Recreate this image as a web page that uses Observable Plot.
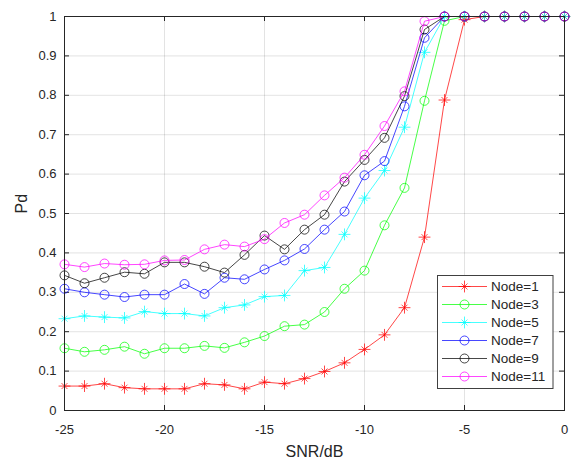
<!DOCTYPE html>
<html>
<head>
<meta charset="utf-8">
<script src="https://cdn.jsdelivr.net/npm/d3@7"></script>
<script src="https://cdn.jsdelivr.net/npm/@observablehq/plot@0.6"></script>
<style>
  html, body { margin: 0; padding: 0; background: #ffffff; }
  #chart { width: 576px; height: 459px; }
</style>
</head>
<body>
<div id="chart"></div>
<script>
// ---- data ----
const snr = [-25,-24,-23,-22,-21,-20,-19,-18,-17,-16,-15,-14,-13,-12,-11,-10,-9,-8,-7,-6,-5,-4,-3,-2,-1,0];
const node1  = [0.062,0.062,0.068,0.058,0.055,0.055,0.055,0.068,0.065,0.055,0.072,0.068,0.081,0.099,0.121,0.155,0.192,0.261,0.440,0.788,0.992,1,1,1,1,1];
const node3  = [0.158,0.149,0.154,0.162,0.144,0.158,0.158,0.164,0.159,0.173,0.189,0.214,0.218,0.250,0.309,0.355,0.470,0.565,0.786,0.989,1,1,1,1,1,1];
const node5  = [0.233,0.240,0.237,0.235,0.251,0.246,0.246,0.240,0.261,0.268,0.289,0.292,0.355,0.363,0.447,0.539,0.609,0.719,0.909,1,1,1,1,1,1,1];
const node7  = [0.309,0.300,0.294,0.288,0.294,0.294,0.321,0.296,0.337,0.333,0.358,0.381,0.410,0.459,0.505,0.597,0.633,0.772,0.946,1,1,1,1,1,1,1];
const node9  = [0.343,0.323,0.337,0.351,0.347,0.376,0.376,0.365,0.350,0.395,0.444,0.409,0.459,0.497,0.581,0.636,0.692,0.798,0.967,1,1,1,1,1,1,1];
const node11 = [0.371,0.364,0.373,0.370,0.371,0.381,0.382,0.409,0.421,0.416,0.435,0.476,0.497,0.546,0.591,0.649,0.722,0.810,0.988,1,1,1,1,1,1,1];

const seriesNames   = ["Node=1","Node=3","Node=5","Node=7","Node=9","Node=11"];
const seriesValues  = [node1, node3, node5, node7, node9, node11];
const seriesColors  = ["#ff0000","#00ff00","#00ffff","#0000ff","#000000","#ff00ff"];
const seriesMarkers = ["star","circle","star","circle","circle","circle"];

const xTicks = [-25,-20,-15,-10,-5,0];
const yTicks = [0,0.1,0.2,0.3,0.4,0.5,0.6,0.7,0.8,0.9,1];
const xLabel = "SNR/dB";
const yLabel = "Pd";

// ---- layout ----
const W = 576, H = 459;
const mL = 64, mR = 12, mT = 16, mB = 49;
const plotW = W - mL - mR, plotH = H - mT - mB;
const tickLen = 5;
const axisColor = "#262626";
const font = "'Liberation Sans', Arial, Helvetica, sans-serif";
const seriesOpacity = 0.72;

const marks = [
  Plot.gridX(xTicks, {stroke: axisColor, strokeOpacity: 0.13}),
  Plot.gridY(yTicks, {stroke: axisColor, strokeOpacity: 0.13}),
  // inward ticks
  Plot.tickY(yTicks, {y: d => d, insetRight: plotW - tickLen, stroke: axisColor}),
  Plot.tickY(yTicks, {y: d => d, insetLeft: plotW - tickLen, stroke: axisColor}),
  Plot.tickX(xTicks, {x: d => d, insetTop: plotH - tickLen, stroke: axisColor}),
  Plot.tickX(xTicks, {x: d => d, insetBottom: plotH - tickLen, stroke: axisColor}),
  Plot.axisX(xTicks, {tickSize: 0, tickPadding: 14, tickFormat: d => String(d), label: null, fontSize: 13}),
  Plot.axisY(yTicks, {tickSize: 0, tickPadding: 8, tickFormat: d => String(d), label: null, fontSize: 13}),
  Plot.text([xLabel], {text: d => d, frameAnchor: "bottom", dy: 41, lineAnchor: "middle", fontSize: 16, fill: axisColor}),
  Plot.text([yLabel], {text: d => d, frameAnchor: "left", dx: -43, rotate: -90, lineAnchor: "middle", fontSize: 16, fill: axisColor})
];

seriesNames.forEach((name, i) => {
  const rows = snr.map((x, j) => ({x, y: seriesValues[i][j]}));
  const c = seriesColors[i];
  marks.push(Plot.line(rows, {x: "x", y: "y", stroke: c, strokeWidth: 1, strokeOpacity: seriesOpacity}));
  if (seriesMarkers[i] === "circle") {
    marks.push(Plot.dot(rows, {x: "x", y: "y", symbol: "circle", r: 4.5, stroke: c, fill: "none", strokeWidth: 1, strokeOpacity: seriesOpacity}));
  } else {
    marks.push(Plot.dot(rows, {x: "x", y: "y", symbol: "plus", r: 3.9, stroke: c, strokeWidth: 1, strokeOpacity: seriesOpacity}));
    marks.push(Plot.dot(rows, {x: "x", y: "y", symbol: "times", r: 2.8, stroke: c, strokeWidth: 1, strokeOpacity: seriesOpacity}));
  }
});

marks.push(Plot.frame({stroke: axisColor, strokeWidth: 1}));

const chart = Plot.plot({
  width: W,
  height: H,
  marginLeft: mL,
  marginRight: mR,
  marginTop: mT,
  marginBottom: mB,
  style: {fontFamily: font, fontSize: "13px", color: axisColor, background: "#ffffff", overflow: "visible"},
  x: {domain: [-25, 0], type: "linear"},
  y: {domain: [0, 1], type: "linear"},
  marks
});

// ---- legend (drawn into the Plot SVG) ----
const svg = d3.select(chart);
const lg = {x: 437.5, y: 275.5, w: 115.5, h: 113, rowH: 18, firstRow: 286.5, lineX1: 442, lineX2: 487, textX: 491};
const g = svg.append("g").attr("class", "legend")
  .attr("font-family", font).attr("font-size", 13.5).attr("text-anchor", "start");
g.append("rect").attr("x", lg.x).attr("y", lg.y).attr("width", lg.w).attr("height", lg.h)
  .attr("fill", "#ffffff").attr("stroke", "#404040").attr("stroke-width", 1);
seriesNames.forEach((name, i) => {
  const yy = lg.firstRow + i * lg.rowH;
  const cx = (lg.lineX1 + lg.lineX2) / 2;
  const c = seriesColors[i];
  g.append("line").attr("x1", lg.lineX1).attr("x2", lg.lineX2).attr("y1", yy).attr("y2", yy)
    .attr("stroke", c).attr("stroke-width", 1).attr("stroke-opacity", seriesOpacity);
  if (seriesMarkers[i] === "circle") {
    g.append("path").attr("d", d3.symbol(d3.symbolCircle, Math.PI * 4.5 * 4.5)())
      .attr("transform", `translate(${cx},${yy})`).attr("fill", "none").attr("stroke", c)
      .attr("stroke-width", 1).attr("stroke-opacity", seriesOpacity);
  } else {
    g.append("path").attr("d", d3.symbol(d3.symbolPlus, Math.PI * 3.9 * 3.9)())
      .attr("transform", `translate(${cx},${yy})`).attr("fill", "none").attr("stroke", c)
      .attr("stroke-width", 1).attr("stroke-opacity", seriesOpacity);
    g.append("path").attr("d", d3.symbol(d3.symbolTimes, Math.PI * 2.8 * 2.8)())
      .attr("transform", `translate(${cx},${yy})`).attr("fill", "none").attr("stroke", c)
      .attr("stroke-width", 1).attr("stroke-opacity", seriesOpacity);
  }
  g.append("text").attr("x", lg.textX).attr("y", yy).attr("dy", "0.35em")
    .attr("fill", axisColor).text(name);
});

document.getElementById("chart").appendChild(chart);
</script>
</body>
</html>
